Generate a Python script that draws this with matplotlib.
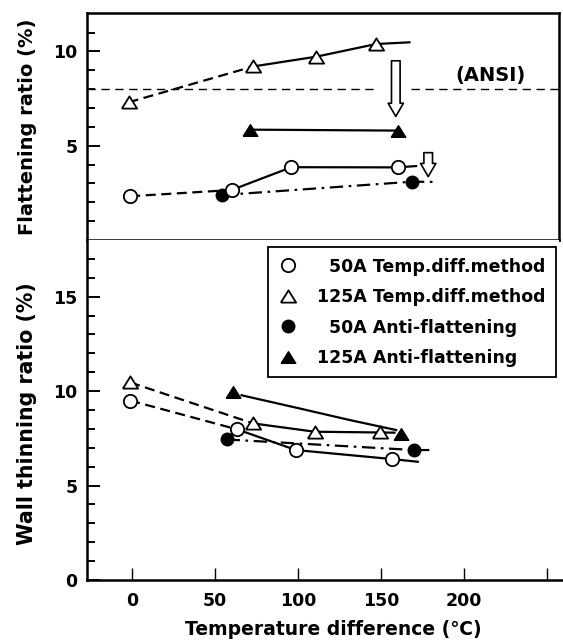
import matplotlib
matplotlib.use("Agg")
import matplotlib.pyplot as plt
from matplotlib.ticker import FixedLocator
from matplotlib.lines import Line2D

plt.rcParams['font.family'] = ['DejaVu Sans']
plt.rcParams['font.weight'] = 'bold'

# --- data ---
# upper panel: flattening ratio (%)
flat_tri_open_x = [-2, 73, 111, 147]
flat_tri_open_y = [7.3, 9.2, 9.72, 10.39]
flat_tri_open_end = (167, 10.48)

flat_tri_fill_x = [71, 160]
flat_tri_fill_y = [5.85, 5.8]

flat_circ_open_x = [-1, 60, 96, 160]
flat_circ_open_y = [2.32, 2.65, 3.86, 3.85]
flat_circ_open_end = (171, 3.92)

flat_circ_fill_x = [54, 168.5]
flat_circ_fill_y = [2.38, 3.09]
flat_circ_fill_end = (182, 3.08)

ansi_level = 8.0

# lower panel: wall thinning ratio (%)
wall_tri_open_x = [-1, 73, 110, 149]
wall_tri_open_y = [10.46, 8.29, 7.85, 7.81]
wall_tri_open_end = (158, 7.8)

wall_circ_open_x = [-1, 63.5, 98.7, 156.8]
wall_circ_open_y = [9.5, 7.97, 6.88, 6.4]
wall_circ_open_end = (172, 6.26)

wall_circ_fill_x = [57, 170]
wall_circ_fill_y = [7.44, 6.88]
wall_circ_fill_end = (179, 6.88)

wall_tri_fill_x = [61, 162]
wall_tri_fill_y = [9.95, 7.72]
# hand drawn curve through the filled triangles
wall_tri_fill_curve_x = [66, 101, 131, 159]
wall_tri_fill_curve_y = [9.78, 9.08, 8.47, 7.94]

legend_labels = ["  50A Temp.diff.method", "125A Temp.diff.method",
                 "  50A Anti-flattening", "125A Anti-flattening"]

XLIM = (-27, 257)

# wide triangle marker (a bit flatter than matplotlib's)
TRI = [(-1, -0.8), (1, -0.8), (0, 0.8), (-1, -0.8)]

LW = 1.6
DASH = (0, (4.5, 2.5))
DASHDOT = (0, (6, 2.5, 1.2, 2.5))

open_circ = dict(marker='o', ms=9.6, mfc='white', mec='black', mew=1.3, ls='none', zorder=5)
fill_circ = dict(marker='o', ms=9.0, mfc='black', mec='black', mew=1.0, ls='none', zorder=4)
open_tri = dict(marker=TRI, ms=11, mfc='white', mec='black', mew=1.3, ls='none', zorder=5)
fill_tri = dict(marker=TRI, ms=10.5, mfc='black', mec='black', mew=1.0, ls='none', zorder=4)


def line(ax, xs, ys, style):
    ax.plot(xs, ys, color='black', lw=LW, ls=style, zorder=2)


def style_axis(ax, major, minor):
    ax.set_xlim(*XLIM)
    ax.yaxis.set_major_locator(FixedLocator(major))
    ax.yaxis.set_minor_locator(FixedLocator(minor))
    ax.tick_params(axis='y', which='major', direction='in', length=9, width=1.4,
                   pad=7, labelsize=12.5)
    ax.tick_params(axis='y', which='minor', direction='in', length=6, width=1.4)
    for lab in ax.get_yticklabels():
        lab.set_fontweight('bold')
    for s in ax.spines.values():
        s.set_linewidth(1.8)


fig = plt.figure(figsize=(5.63, 6.41), dpi=100)
left = 87 / 563
width = 472 / 563
ax_top = fig.add_axes([left, 1 - 240 / 641, width, 227.3 / 641])
ax_bot = fig.add_axes([left, 1 - 580 / 641, width, 340 / 641])

# ---------------- upper panel ----------------
ax = ax_top
ax.set_ylim(0, 12.05)
style_axis(ax, [5, 10], [1, 2, 3, 4, 6, 7, 8, 9, 11])
ax.tick_params(axis='x', which='both', bottom=False, labelbottom=False)

# ANSI limit, broken where the arrow sits
ax.plot([XLIM[0], 146], [ansi_level, ansi_level], color='black', lw=1.0, ls=(0, (6, 4)), zorder=1)
ax.plot([168, XLIM[1]], [ansi_level, ansi_level], color='black', lw=1.0, ls=(0, (6, 4)), zorder=1)
ax.text(216, 8.72, "(ANSI)", ha='center', va='center', fontsize=14, fontweight='bold')

x, y = flat_tri_open_x, flat_tri_open_y
line(ax, x[:2], y[:2], DASH)
line(ax, x[1:] + [flat_tri_open_end[0]], y[1:] + [flat_tri_open_end[1]], '-')
ax.plot(x, y, **open_tri)

line(ax, flat_tri_fill_x, flat_tri_fill_y, '-')
ax.plot(flat_tri_fill_x, flat_tri_fill_y, **fill_tri)

x, y = flat_circ_open_x, flat_circ_open_y
line(ax, x[:2], y[:2], DASH)
line(ax, x[1:] + [flat_circ_open_end[0]], y[1:] + [flat_circ_open_end[1]], '-')
ax.plot(x, y, **open_circ)

x, y = flat_circ_fill_x, flat_circ_fill_y
line(ax, x + [flat_circ_fill_end[0]], y + [flat_circ_fill_end[1]], DASHDOT)
ax.plot(x, y, **fill_circ)

arrow = dict(arrowstyle='simple,head_length=0.95,head_width=1.1,tail_width=0.62',
             fc='white', ec='black', lw=1.2, mutation_scale=10, shrinkA=0, shrinkB=0)
ax.annotate('', xy=(158.8, 6.55), xytext=(158.8, 9.5), arrowprops=arrow, zorder=6)
ax.annotate('', xy=(178.3, 3.36), xytext=(178.3, 4.63), arrowprops=arrow, zorder=6)

ax.set_ylabel("Flattening ratio (%)", fontsize=14, fontweight='bold')
ax.yaxis.set_label_coords(-0.105, 0.5)

# ---------------- lower panel ----------------
ax = ax_bot
ax.set_ylim(0, 18)
style_axis(ax, [0, 5, 10, 15], [1, 2, 3, 4, 6, 7, 8, 9, 11, 12, 13, 14, 16, 17])
ax.spines['top'].set_visible(False)
ax.spines['right'].set_visible(False)
ax.spines['bottom'].set_bounds(XLIM[0], 259.5)
ax.set_xticks([0, 50, 100, 150, 200, 250])
ax.set_xticklabels(['0', '50', '100', '150', '200', ''])
ax.tick_params(axis='x', direction='in', length=8.5, width=1.0, pad=9, labelsize=12.5)
for lab in ax.get_xticklabels():
    lab.set_fontweight('bold')

x, y = wall_tri_open_x, wall_tri_open_y
line(ax, x[:2], y[:2], DASH)
line(ax, x[1:] + [wall_tri_open_end[0]], y[1:] + [wall_tri_open_end[1]], '-')
ax.plot(x, y, **open_tri)

x, y = wall_circ_open_x, wall_circ_open_y
line(ax, x[:2], y[:2], DASH)
line(ax, x[1:] + [wall_circ_open_end[0]], y[1:] + [wall_circ_open_end[1]], '-')
ax.plot(x, y, **open_circ)

x, y = wall_circ_fill_x, wall_circ_fill_y
line(ax, x + [wall_circ_fill_end[0]], y + [wall_circ_fill_end[1]], DASHDOT)
ax.plot(x, y, **fill_circ)

line(ax, wall_tri_fill_curve_x, wall_tri_fill_curve_y, '-')
ax.plot(wall_tri_fill_x, wall_tri_fill_y, **fill_tri)

ax.set_ylabel("Wall thinning ratio (%)", fontsize=14.8, fontweight='bold')
ax.yaxis.set_label_coords(-0.105, 0.49)
ax.set_xlabel("Temperature difference (℃)", fontsize=13.5, fontweight='bold')
ax.xaxis.set_label_coords(0.521, -0.118)

handles = [Line2D([], [], **open_circ), Line2D([], [], **open_tri),
           Line2D([], [], **fill_circ), Line2D([], [], **fill_tri)]
leg = ax.legend(handles, legend_labels, loc='upper right', bbox_to_anchor=(0.9936, 0.979),
                borderaxespad=0, fancybox=False, framealpha=1, edgecolor='black',
                prop={'size': 12.5, 'weight': 'bold'}, handlelength=1.2,
                handletextpad=1.05, borderpad=0.6, labelspacing=0.72)
leg.get_frame().set_linewidth(1.3)

fig.savefig("out.png", dpi=100)
